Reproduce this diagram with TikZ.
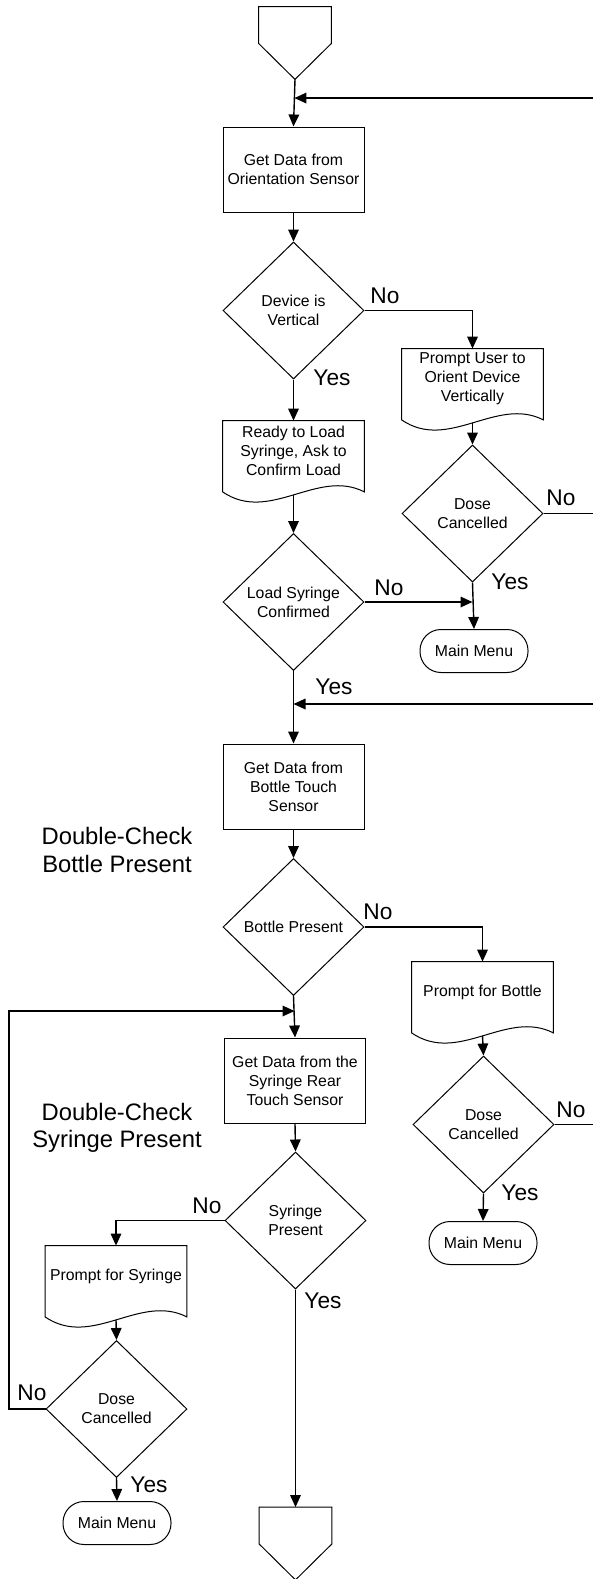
\documentclass[tikz,border=0pt]{standalone}
\usepackage{fontspec}
\setmainfont{Liberation Sans}
\usetikzlibrary{shapes.geometric,arrows.meta,calc}
\newcommand{\smallfnt}{\fontsize{7.9pt}{9.5pt}\selectfont}
\newcommand{\ynfnt}{\fontsize{11.35pt}{13.5pt}\selectfont}
\newcommand{\bigfnt}{\fontsize{11.9pt}{13.6pt}\selectfont}
\newcommand{\docoutline}[1]{\draw[shp] (#1.north west) -- (#1.north east) -- ($(#1.south east)+(0,10.5)$) .. controls ($(#1.south east)+(-47,-13.5)$) and ($(#1.south west)+(47,42.5)$) .. ($(#1.south west)+(0,10.5)$) -- cycle;}
\newcommand{\offoutline}[1]{\draw[shp] (#1.north west) -- (#1.north east) -- (#1.south east) -- ($(#1.south)+(0,36)$) -- (#1.south west) -- cycle;}
\tikzset{
  shp/.style={line width=0.5pt},
  procbox/.style={draw, shp, rectangle, minimum width=70.5pt, minimum height=42.5pt, inner sep=0pt, align=center, font=\smallfnt},
  decbox/.style={draw, shp, diamond, minimum width=70.5pt, minimum height=68.5pt, inner sep=0pt, align=center, font=\smallfnt},
  docbox/.style={rectangle, minimum width=70.5pt, minimum height=30pt, inner sep=0pt, align=center, font=\smallfnt},
  termbox/.style={draw, shp, rectangle, rounded corners=10.5pt, minimum width=54pt, minimum height=21.5pt, inner sep=0pt, font=\smallfnt},
  offbox/.style={rectangle, minimum width=36pt, minimum height=18pt, inner sep=0pt},
  arr/.style={line width=0.7pt, -{Triangle[length=6pt,width=5.3pt]}},
  con/.style={line width=0.7pt},
  yn/.style={font=\ynfnt, inner sep=0pt},
  note/.style={font=\bigfnt, inner sep=0pt, align=center},
}
\begin{document}
\begin{tikzpicture}[x=0.5pt,y=-0.5pt]
\useasboundingbox (0,0) rectangle (593,1579);
% shapes
\node[offbox] (off1) at (295,25) {};
\offoutline{off1}
\node[procbox] (box1) at (293.5,169.5) {Get Data from\\Orientation Sensor};
\node[decbox] (d1) at (293.5,310.5) {Device is\\Vertical};
\node[docbox] (doc1) at (472.5,379) {Prompt User to\\Orient Device\\Vertically};
\docoutline{doc1}
\node[docbox] (doc2) at (293.5,451) {Ready to Load\\Syringe, Ask to\\Confirm Load};
\docoutline{doc2}
\node[decbox] (dose1) at (472.5,513.5) {Dose\\Cancelled};
\node[decbox] (d2) at (293.5,602) {Load Syringe\\Confirmed};
\node[termbox] (mm1) at (474,651) {Main Menu};
\node[procbox] (box2) at (293.5,786.5) {Get Data from\\Bottle Touch\\Sensor};
\node[decbox] (bottle) at (293.5,927) {Bottle Present};
\node[docbox] (docB) at (482.5,992) {Prompt for Bottle};
\docoutline{docB}
\node[procbox] (box3) at (295,1080.5) {Get Data from the\\Syringe Rear\\Touch Sensor};
\node[decbox] (dose2) at (483.5,1124.5) {Dose\\Cancelled};
\node[termbox] (mm2) at (483,1243) {Main Menu};
\node[decbox] (syr) at (295.5,1220.5) {Syringe\\Present};
\node[docbox] (docS) at (116,1276) {Prompt for Syringe};
\docoutline{docS}
\node[decbox] (dose3) at (116.5,1409) {Dose\\Cancelled};
\node[termbox] (mm3) at (117,1523) {Main Menu};
\node[offbox] (off2) at (295.5,1525.5) {};
\offoutline{off2}
% side notes
\node[note] (dc1) at (117,850) {Double-Check\\Bottle Present};
\node[note] (dc2) at (117,1128) {Double-Check\\Syringe Present};
% helper coordinates
\coordinate (t1) at ($(off1.south)+(0,36)$);
\coordinate (m1) at ($(t1)!0.396!(box1.north)$);
\coordinate (m2) at (293.5,704);
\coordinate (m4) at (294.5,1011);
\coordinate (rr) at (600,0);
\coordinate (ll) at (9,0);
% connectors
\draw[arr] (t1) -- (box1.north);
\draw[arr] (box1.south) -- (d1.north);
\draw[arr] (d1.east) -- (d1.east -| doc1.north) -- (doc1.north);
\draw[arr] (d1.south) -- (doc2.north);
\draw[arr] ($(doc1.south)+(0,13.5)$) -- (dose1.north);
\draw[arr] ($(doc2.south)+(0,13.5)$) -- (d2.north);
\draw[arr] (dose1.south) -- (mm1.north);
\draw[arr] (d2.east) -- (d2.east -| dose1.south);
\draw[arr] (dose1.east) -- (dose1.east -| rr) -- (rr |- m1) -- (m1);
\draw[arr] (d2.south) -- (box2.north);
\draw[arr] (dose2.east) -- (dose2.east -| rr) -- (rr |- m2) -- (m2);
\draw[arr] (box2.south) -- (bottle.north);
\draw[arr] (bottle.east) -- (bottle.east -| docB.north) -- (docB.north);
\draw[arr] (bottle.south) -- (box3.north);
\draw[arr] ($(docB.south)+(0,13.5)$) -- (dose2.north);
\draw[arr] (dose2.south) -- (mm2.north);
\draw[arr] (box3.south) -- (syr.north);
\draw[arr] (syr.west) -- (syr.west -| docS.north) -- (docS.north);
\draw[arr] (syr.south) -- (off2.north);
\draw[arr] ($(docS.south)+(0,13.5)$) -- (dose3.north);
\draw[arr] (dose3.south) -- (mm3.north);
\draw[arr] (dose3.west) -- (dose3.west -| ll) -- (ll |- m4) -- (m4);
% labels
\node[yn] (n1) at (385,296) {No};
\node[yn] (y1) at (332,378) {Yes};
\node[yn] (n2) at (389,588) {No};
\node[yn] (n3) at (561,498) {No};
\node[yn] (y2) at (510,582) {Yes};
\node[yn] (y3) at (334,687) {Yes};
\node[yn] (n4) at (378,912) {No};
\node[yn] (n5) at (571,1110) {No};
\node[yn] (y4) at (520,1193) {Yes};
\node[yn] (n6) at (207,1206) {No};
\node[yn] (y5) at (323,1301) {Yes};
\node[yn] (n7) at (32,1393) {No};
\node[yn] (y6) at (149,1485) {Yes};
\end{tikzpicture}
\end{document}
